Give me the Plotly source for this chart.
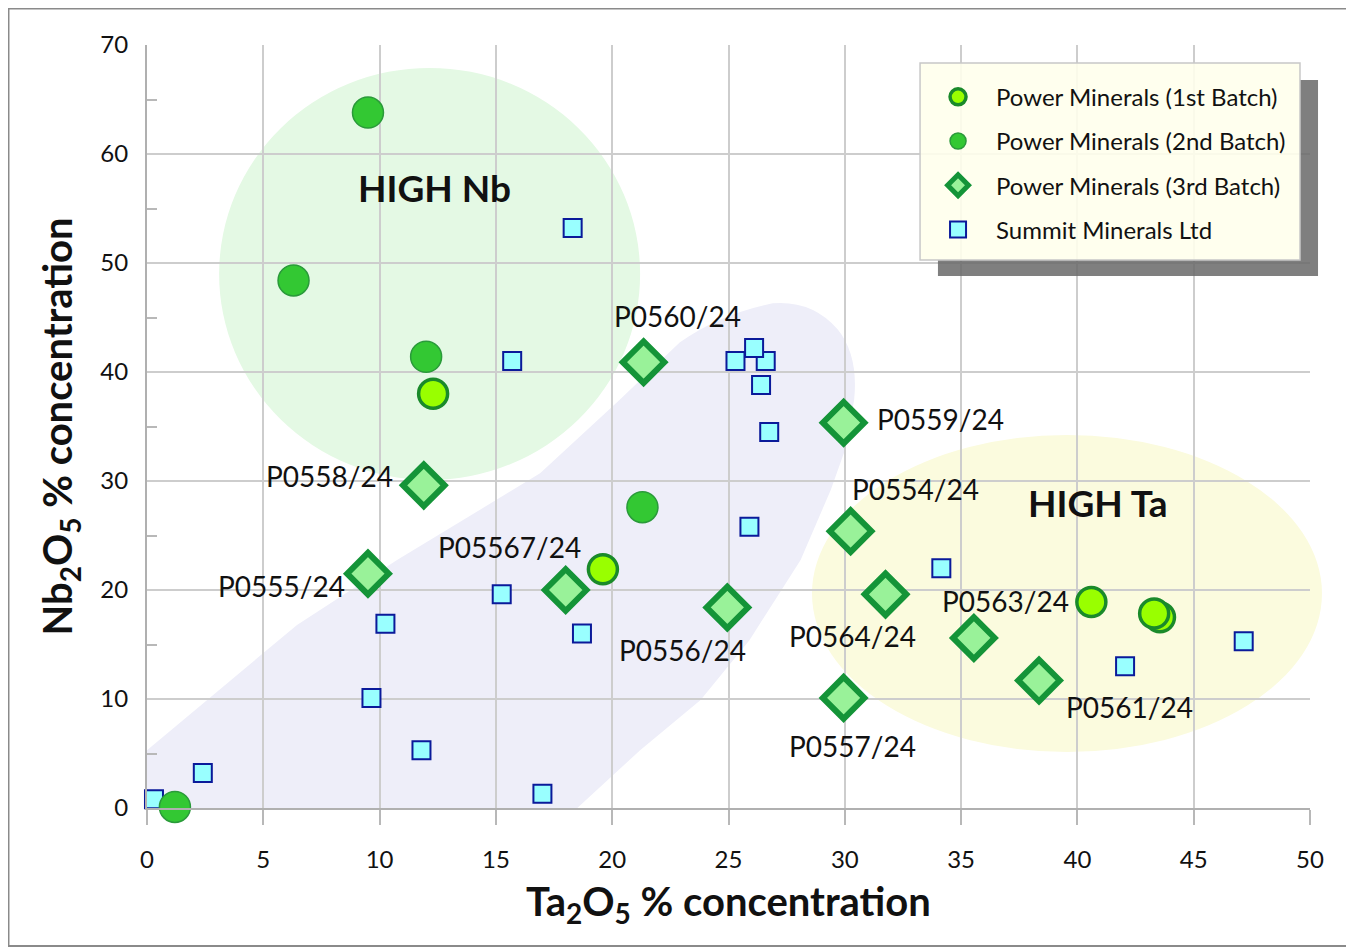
import plotly.graph_objects as go

# ---------------- data ----------------
batch1_x = [12.3, 19.6, 40.6, 43.55, 43.3]
batch1_y = [38.0, 21.9, 18.9, 17.5, 17.85]

batch2_x = [9.5, 6.3, 12.0, 21.3, 1.2]
batch2_y = [63.8, 48.4, 41.4, 27.6, 0.1]

batch3_names = ["P0560/24", "P0559/24", "P0558/24", "P0554/24", "P0555/24", "P05567/24",
                "P0556/24", "P0564/24", "P0563/24", "P0561/24", "P0557/24"]
batch3_x = [21.35, 29.95, 11.9, 30.25, 9.5, 18.0, 24.95, 31.75, 35.55, 38.35, 29.95]
batch3_y = [40.9, 35.35, 29.6, 25.4, 21.5, 20.0, 18.4, 19.6, 15.6, 11.7, 10.1]

summit_x = [18.3, 15.7, 25.3, 26.6, 26.4, 26.1, 26.75, 25.9, 34.15, 15.25, 10.25, 18.7,
            9.65, 11.8, 2.4, 0.3, 17.0, 42.05, 47.15]
summit_y = [53.2, 41.0, 41.0, 41.0, 38.8, 42.2, 34.5, 25.8, 22.0, 19.6, 16.9, 16.0,
            10.1, 5.3, 3.2, 0.8, 1.3, 13.0, 15.3]

x_ticks = [0, 5, 10, 15, 20, 25, 30, 35, 40, 45, 50]
y_ticks = [0, 10, 20, 30, 40, 50, 60, 70]

# label offsets (pixels) for the 3rd batch labels
label_dx = [34, 97, -94, 65, -86, -56, -45, -33, 32, 90, 9]
label_dy = [46, 4, 9, 42, -12, 43, -43, -42, 37, -27, -48]

FONT = "Lato"

fig = go.Figure()

fig.add_trace(go.Scatter(
    x=summit_x, y=summit_y, mode="markers", name="Summit Minerals Ltd",
    legendrank=4, legendgroup="d", cliponaxis=False,
    marker=dict(symbol="square", size=18, color="#99ffff",
                line=dict(color="#0a1a9a", width=2))))

fig.add_trace(go.Scatter(
    x=batch3_x, y=batch3_y, mode="markers", name="Power Minerals (3rd Batch)",
    legendrank=3, legendgroup="c", cliponaxis=False,
    marker=dict(symbol="diamond", size=32, color="#99f299",
                line=dict(color="#149438", width=6))))

fig.add_trace(go.Scatter(
    x=batch2_x, y=batch2_y, mode="markers", name="Power Minerals (2nd Batch)",
    legendrank=2, legendgroup="b", cliponaxis=False,
    marker=dict(symbol="circle", size=31, color="#33c833",
                line=dict(color="#2a9a3a", width=1.5))))

fig.add_trace(go.Scatter(
    x=batch1_x, y=batch1_y, mode="markers", name="Power Minerals (1st Batch)",
    legendrank=1, legendgroup="a", cliponaxis=False,
    marker=dict(symbol="circle", size=29, color="#99ff00",
                line=dict(color="#1a8a2a", width=3.5))))

# ---------------- annotations ----------------
annotations = []
for name, x, y, dx, dy in zip(batch3_names, batch3_x, batch3_y, label_dx, label_dy):
    annotations.append(dict(x=x, y=y, xref="x", yref="y", text=name, showarrow=False,
                            xanchor="center", yanchor="middle", xshift=dx, yshift=dy,
                            font=dict(family=FONT, size=28, color="#111111")))
annotations.append(dict(x=12.38, y=56.9, xref="x", yref="y", text="<b>HIGH Nb</b>",
                        showarrow=False, font=dict(family=FONT, size=37, color="#111111")))
annotations.append(dict(x=40.9, y=28.07, xref="x", yref="y", text="<b>HIGH Ta</b>",
                        showarrow=False, font=dict(family=FONT, size=37, color="#111111")))

# ---------------- background shapes ----------------
lav_path = ("M 0,0 L 0,5.3 L 6.45,16.8 L 10.75,22.75 L 16.9,30.7 L 20.3,37.4 "
            "L 22.9,42.7 Q 24.6,45.3 26.9,46.3 Q 28.6,46.6 29.7,43.9 "
            "Q 30.6,41.5 30.4,37.4 L 30.0,32.8 L 29.4,29.2 L 28.1,22.75 "
            "L 25.9,15.4 L 23.8,9.9 L 21.2,5.3 L 18.5,0 Z")

shapes = [
    dict(type="circle", xref="x", yref="y", x0=3.1, x1=21.2, y0=30.1, y1=67.9,
         fillcolor="#e4f9e4", line=dict(width=0), layer="below"),
    # HIGH Ta ellipse slightly overhangs the right axis edge
    dict(type="circle", xref="paper", yref="paper", x0=0.5718, x1=1.0103, y0=0.0734, y1=0.4889,
         fillcolor="#fbfbde", line=dict(width=0), layer="below"),
    dict(type="path", xref="x", yref="y", path=lav_path,
         fillcolor="#eeeef9", line=dict(width=0), layer="below"),
    # legend shadow (visible right and bottom strips)
    dict(type="rect", xref="paper", yref="paper", x0=0.9914, x1=1.0069, y0=0.6972, y1=0.9541,
         fillcolor="rgba(105,105,105,0.85)", line=dict(width=0), layer="above"),
    dict(type="rect", xref="paper", yref="paper", x0=0.6801, x1=0.9914, y0=0.6972, y1=0.7182,
         fillcolor="rgba(105,105,105,0.85)", line=dict(width=0), layer="above"),
    # legend box (slightly translucent, grid shows through)
    dict(type="rect", xref="paper", yref="paper", x0=0.6647, x1=0.9914, y0=0.7182, y1=0.9764,
         fillcolor="rgba(255,255,236,0.9)", line=dict(color="#c8c8c8", width=1.5), layer="above"),
    # outer chart border
    dict(type="rect", xref="paper", yref="paper", x0=-0.1191, x1=1.0335, y0=-0.1809, y1=1.0478,
         fillcolor="rgba(0,0,0,0)", line=dict(color="#8a8a8a", width=2), layer="below"),
]

fig.update_layout(
    width=1346, height=941, autosize=False,
    margin=dict(l=139, r=44, t=37, b=141),
    paper_bgcolor="white", plot_bgcolor="rgba(0,0,0,0)",
    font=dict(family=FONT, color="#111111"),
    shapes=shapes, annotations=annotations,
    showlegend=True,
    legend=dict(x=0.6647, y=0.961, xanchor="left", yanchor="top",
                bgcolor="rgba(0,0,0,0)", borderwidth=0,
                font=dict(family=FONT, size=24, color="#111111"),
                itemwidth=66, tracegroupgap=10, traceorder="grouped"),
    xaxis=dict(range=[0, 50], tickvals=x_ticks, showgrid=True, gridcolor="#cdcdcd", gridwidth=1.5,
               showline=True, linecolor="#b0b0b0", linewidth=2, zeroline=False,
               ticks="outside", ticklen=15, tickcolor="#b8b8b8", tickwidth=1.5,
               ticklabelstandoff=14,
               tickfont=dict(family=FONT, size=24, color="#111111"),
               title=dict(text="<b>Ta<sub>2</sub>O<sub>5</sub> % concentration</b>",
                          font=dict(family=FONT, size=40, color="#111111"), standoff=16)),
    yaxis=dict(range=[0, 70], tickvals=y_ticks, showgrid=True, gridcolor="#cdcdcd", gridwidth=1.5,
               showline=True, linecolor="#b0b0b0", linewidth=2, zeroline=False,
               ticks="", ticklabelstandoff=12,
               minor=dict(tickvals=[5, 15, 25, 35, 45, 55, 65], ticks="inside", ticklen=10,
                          tickcolor="#b8b8b8", tickwidth=1.5, showgrid=False),
               tickfont=dict(family=FONT, size=24, color="#111111"),
               title=dict(text="<b>Nb<sub>2</sub>O<sub>5</sub> % concentration</b>",
                          font=dict(family=FONT, size=40, color="#111111"), standoff=15)),
)

fig.write_html("out.html")
